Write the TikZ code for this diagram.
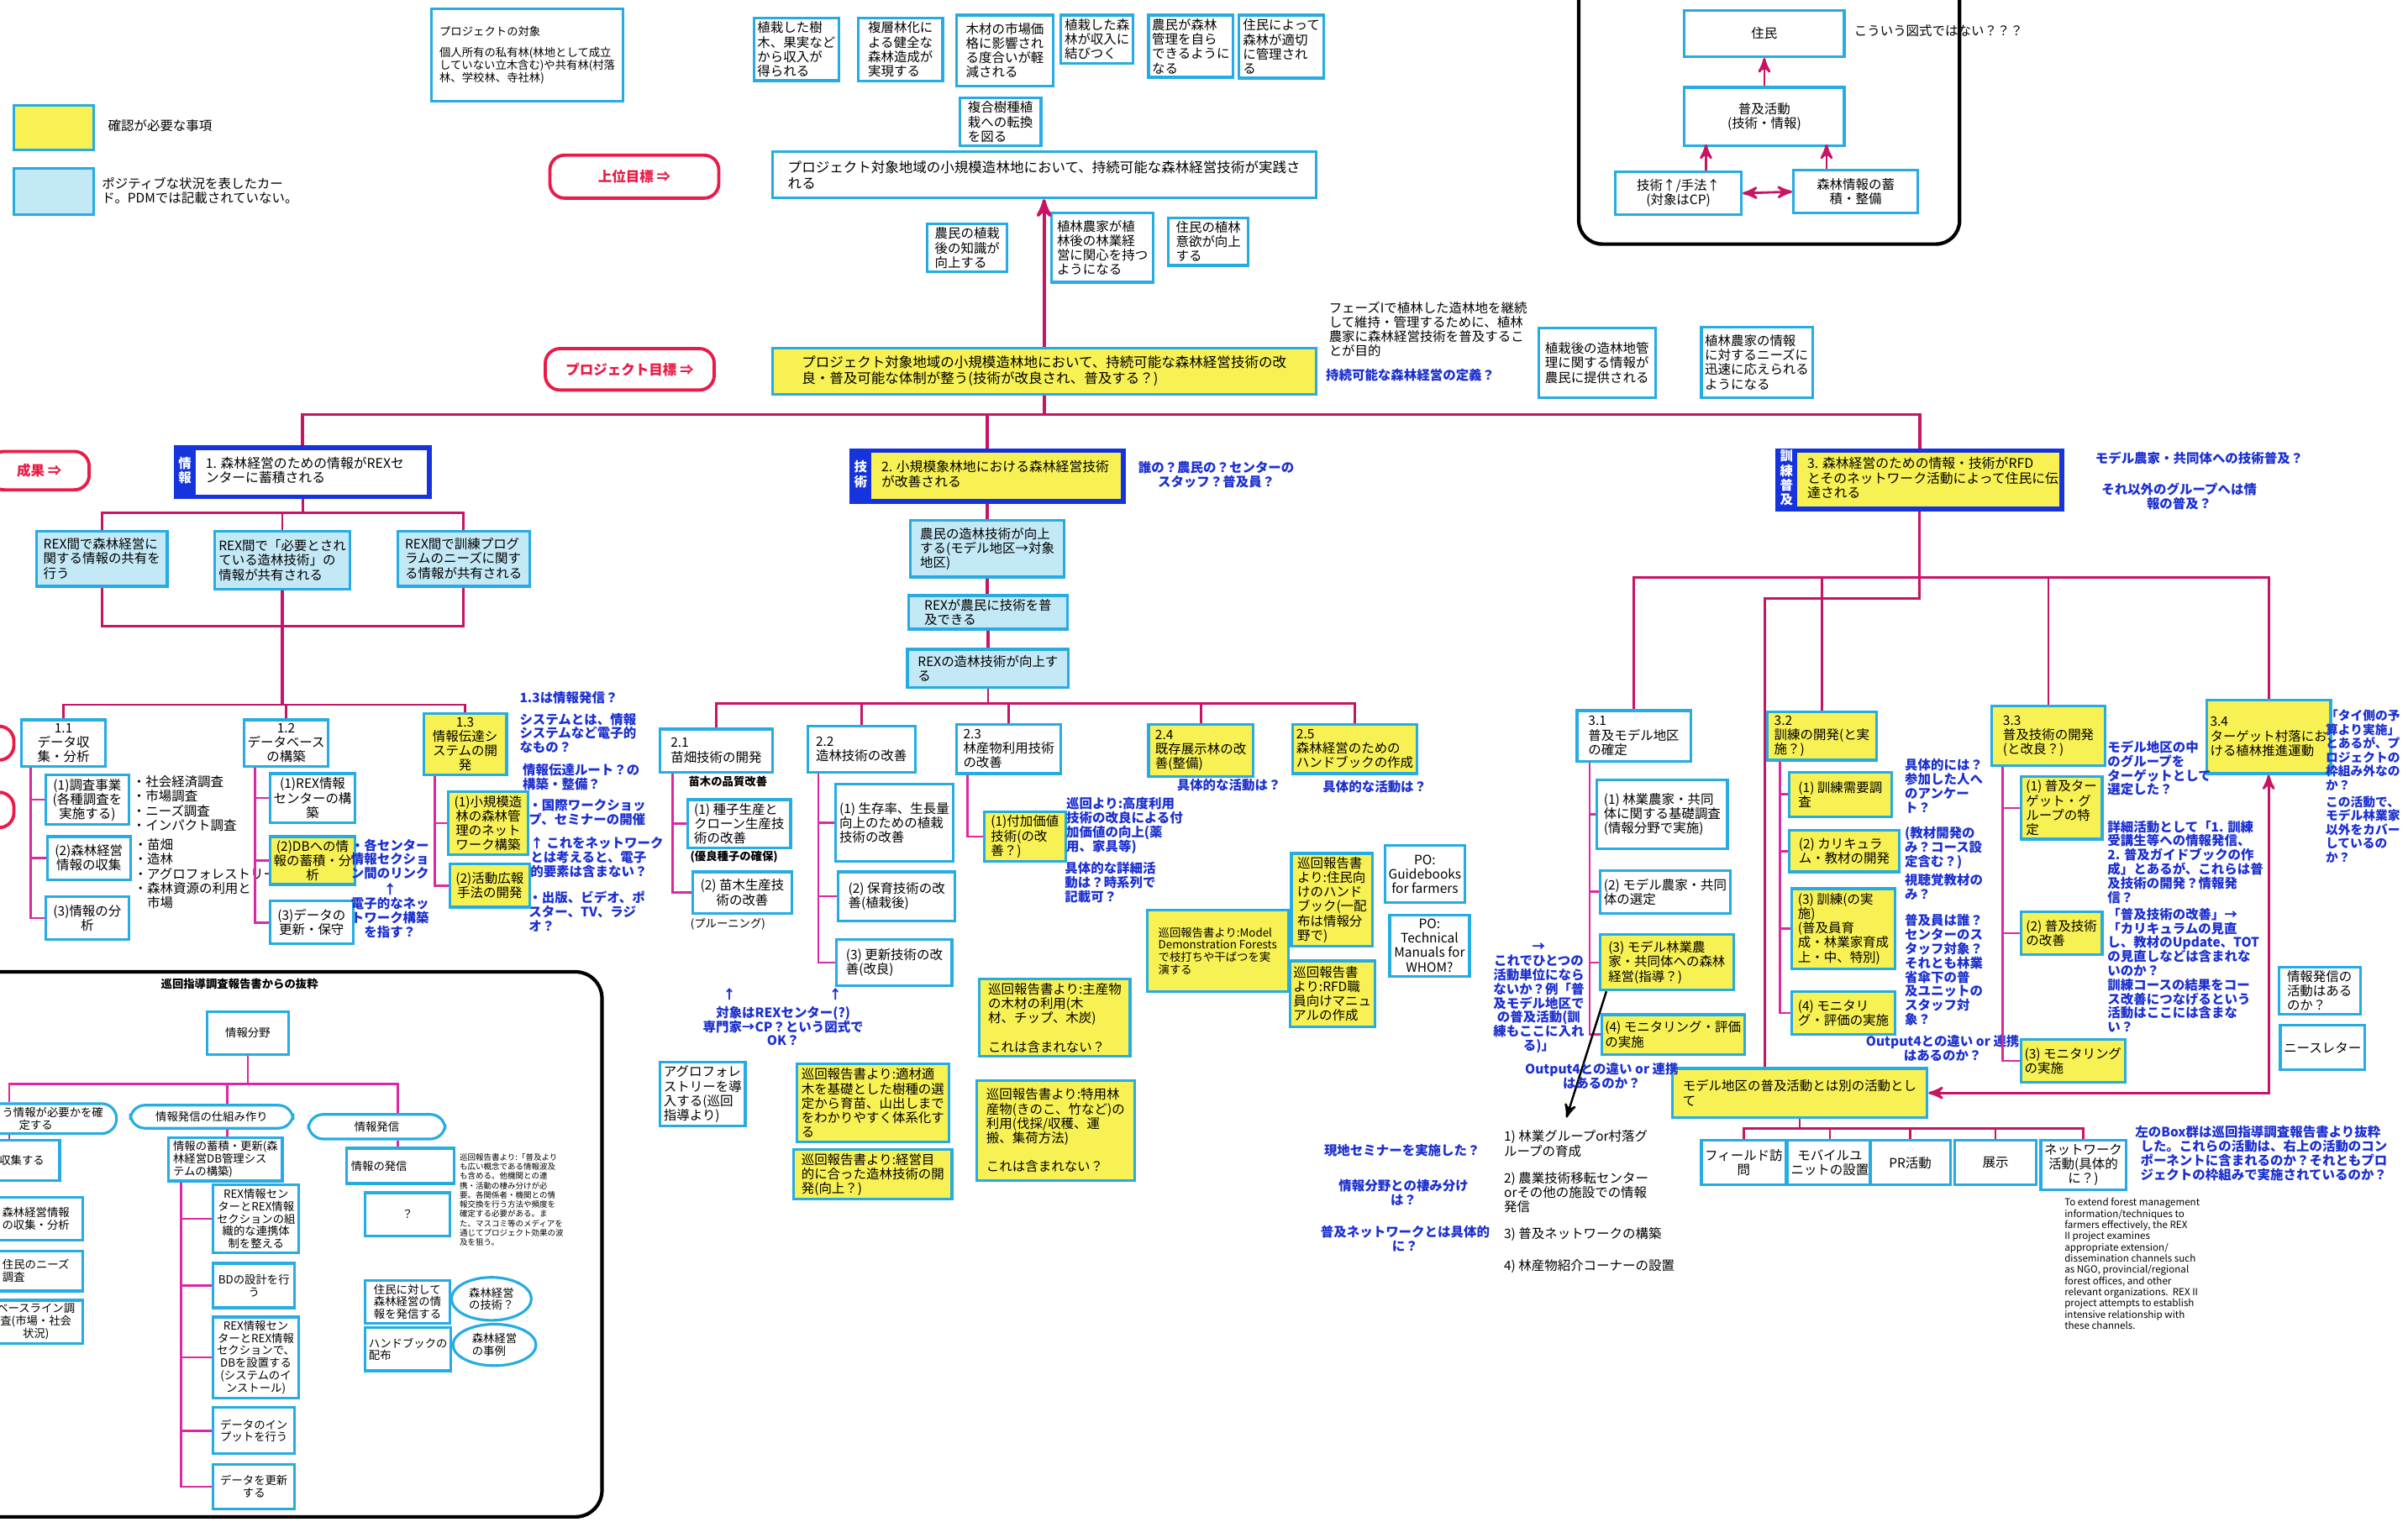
\documentclass[tikz,border=0pt]{standalone}
\usepackage{fontspec}
\setmainfont{Noto Sans CJK JP}
\usepackage{tikz}
\usetikzlibrary{arrows}
\usetikzlibrary{positioning,shapes.geometric,calc}
\definecolor{cyan1}{RGB}{38,172,226}
\definecolor{yellow1}{RGB}{247,241,84}
\definecolor{lblue1}{RGB}{196,233,246}
\definecolor{magenta1}{RGB}{200,20,100}
\definecolor{pink1}{RGB}{222,40,160}
\definecolor{blue1}{RGB}{28,48,208}
\definecolor{navy1}{RGB}{22,52,222}
\definecolor{red1}{RGB}{232,28,72}
\newdimen\pxu
\pxu=0.18278mm
\newcommand{\cardfont}{\fontsize{4.4}{4.9}\selectfont}
\newcommand{\notefont}{\fontsize{4.4}{4.8}\selectfont}
\newcommand{\goalfont}{\fontsize{4.7}{5.4}\selectfont}
\newcommand{\insetfont}{\fontsize{3.8}{4.2}\selectfont}
\newcommand{\minifont}{\fontsize{3.3}{3.8}\selectfont}
\newcommand{\microfont}{\fontsize{2.7}{3.2}\selectfont}
\tikzstyle{card} = [draw=cyan1, line width=0.9pt, fill=white, inner sep=1.2pt, align=left, font=\cardfont, anchor=north west]
\tikzstyle{ycard} = [card, fill=yellow1]
\tikzstyle{bcard} = [card, fill=lblue1]
\tikzstyle{rcard} = [card, rounded corners=5pt, align=center, font=\insetfont]
\tikzstyle{oval} = [ellipse, draw=cyan1, line width=0.9pt, fill=white, inner sep=0pt, align=left, font=\insetfont]
\tikzstyle{outbox} = [draw=navy1, line width=1.6pt, anchor=north west]
\tikzstyle{strip} = [fill=navy1, text=white, inner sep=0pt, font=\cardfont\bfseries, align=center, anchor=north west, minimum width=14*\pxu]
\tikzstyle{outtext} = [font=\fontsize{4.5}{5.0}\selectfont, align=left, anchor=west, inner sep=3pt]
\tikzstyle{goal} = [draw=red1, line width=1.1pt, rounded corners=5pt, text=red1, font=\goalfont\bfseries, anchor=north west]
\tikzstyle{note} = [text=blue1, font=\notefont\bfseries, align=left, anchor=north west, inner sep=0pt]
\tikzstyle{plain} = [font=\cardfont, align=left, anchor=north west, inner sep=0pt]
\tikzstyle{link} = [draw=magenta1, line width=0.8pt]
\tikzstyle{trunk} = [link, line width=1.1pt]
\tikzstyle{spine} = [draw=pink1, line width=0.7pt]
\tikzset{wh/.style 2 args={minimum width=#1*\pxu, minimum height=#2*\pxu}}

\begin{document}
\begin{tikzpicture}[x=0.18278mm, y=-0.18278mm, >=stealth']
\useasboundingbox (0,0) rectangle (1568,991);
\fill[white] (0,0) rectangle (1568,991);

% legend, header
\node[card, font=\insetfont, wh={125}{60}] (target) at (280,5) {プロジェクトの対象\\[3pt]個人所有の私有林(林地として成立\\していない立木含む)や共有林(村落\\林、学校林、寺社林)};
\node[ycard, wh={52}{29}] (legyellow) at (8,68) {};
\node[plain, anchor=west] (legyellowtext) at (70,82) {確認が必要な事項};
\node[bcard, wh={52}{30}] (legblue) at (8,109) {};
\node[plain, anchor=west] (legbluetext) at (66,124) {ポジティブな状況を表したカー\\ド。PDMでは記載されていない。};

\node[goal, wh={110}{28}] (upper) at (357,100) {上位目標\ ⇒};
\node[goal, wh={110}{27}] (purpose) at (354,226) {プロジェクト目標\ ⇒};
\node[goal, wh={65}{25}] (result) at (-8,293) {成果\ ⇒};
\node[goal, wh={70}{22}] (cut1) at (-62,472) {};
\node[goal, wh={70}{23}] (cut2) at (-62,515) {};

% upper goal and effects
\node[card, wh={55}{40}] (fruit) at (490,11) {植栽した樹\\木、果実など\\から収入が\\得られる};
\node[card, wh={55}{40}] (multi) at (558,11) {複層林化に\\よる健全な\\森林造成が\\実現する};
\node[card, wh={63}{46}] (market) at (622,9) {木材の市場価\\格に影響され\\る度合いが軽\\減される};
\node[card, wh={47}{30}] (income) at (690,9) {植栽した森\\林が収入に\\結びつく};
\node[card, wh={53}{40}] (selfmgmt) at (747,9) {農民が森林\\管理を自ら\\できるように\\なる};
\node[card, wh={55}{41}] (residmgmt) at (806,9) {住民によって\\森林が適切\\に管理され\\る};
\node[card, wh={53}{31}] (mixed) at (624,63) {複合樹種植\\栽への転換\\を図る};
\node[card, font=\goalfont, wh={354}{30}] (ugoal) at (502,98) {プロジェクト対象地域の小規模造林地において、持続可能な森林経営技術が実践さ\\れる};
\node[card, wh={52}{31}] (knowl) at (603,145) {農民の植栽\\後の知識が\\向上する};
\node[card, wh={66}{45}] (interest) at (684,138) {植林農家が植\\林後の林業経\\営に関心を持つ\\ようになる};
\node[card, wh={52}{30}] (motiv) at (760,141) {住民の植林\\意欲が向上\\する};
\node[ycard, font=\goalfont, wh={354}{30}] (pgoal) at (502,226) {プロジェクト対象地域の小規模造林地において、持続可能な森林経営技術の改\\良・普及可能な体制が整う(技術が改良され、普及する？)};
\node[plain] (phase) at (865,196) {フェーズIで植林した造林地を継続\\して維持・管理するために、植林\\農家に森林経営技術を普及するこ\\とが目的};
\node[note] (define) at (863,240) {持続可能な森林経営の定義？};
\node[card, wh={76}{45}] (infoprov) at (1001,213) {植栽後の造林地管\\理に関する情報が\\農民に提供される};
\node[card, wh={72}{46}] (needresp) at (1107,212) {植林農家の情報\\に対するニーズに\\迅速に応えられる\\ようになる};

% inset top right
\draw[line width=1.2pt, rounded corners=8pt] (1028,-20) rectangle (1276,159);
\node[card, align=center, wh={104}{30}] (resid) at (1096,6) {住民};
\node[card, align=center, wh={104}{38}] (ext) at (1096,56) {普及活動\\(技術・情報)};
\node[card, align=center, wh={82}{28}] (techup) at (1051,111) {技術↑/手法↑\\(対象はCP)};
\node[card, align=center, wh={81}{28}] (forstock) at (1167,110) {森林情報の蓄\\積・整備};
\node[plain, anchor=west] (askfig) at (1207,20) {こういう図式ではない？？？};
\draw[link,->] (ext.north) -- (resid.south);
\draw[link,->] ([xshift=18*\pxu]techup.north) -- +(0,-17);
\draw[link,->] ([xshift=-19*\pxu]forstock.north) -- +(0,-16);
\draw[link,<->] (techup.east) -- (forstock.west);

% outputs
\node[outbox, fill=white, wh={165}{32}] (o1) at (113,290) {};
\node[strip, minimum height=32*\pxu] (o1s) at (o1.north west) {情\\報};
\node[outtext] (o1t) at (o1s.east) {1. 森林経営のための情報がREXセ\\ンターに蓄積される};
\node[outbox, fill=yellow1, wh={177}{33}] (o2) at (553,292) {};
\node[strip, minimum height=33*\pxu] (o2s) at (o2.north west) {技\\術};
\node[outtext] (o2t) at (o2s.east) {2. 小規模象林地における森林経営技術\\が改善される};
\node[outbox, fill=yellow1, wh={185}{38}] (o3) at (1156,292) {};
\node[strip, minimum height=38*\pxu] (o3s) at (o3.north west) {訓\\練\\普\\及};
\node[outtext] (o3t) at (o3s.east) {3. 森林経営のための情報・技術がRFD\\とそのネットワーク活動によって住民に伝\\達される};
\node[note, align=center, anchor=north] (whose) at (792,300) {誰の？農民の？センターの\\スタッフ？普及員？};
\node[note] (model) at (1364,294) {モデル農家・共同体への技術普及？};
\node[note, align=center, anchor=north] (others) at (1419,314) {それ以外のグループへは情\\報の普及？};

\draw[trunk,->] (pgoal.north) -- (ugoal.south);
\foreach \o in {o1,o2,o3}
  \draw[trunk] (pgoal.south) -- (pgoal.south |- 0,270) -| (\o.north);

% output 1
\node[bcard, wh={85}{36}] (r1) at (23,345) {REX間で森林経営に\\関する情報の共有を\\行う};
\node[bcard, wh={88}{38}] (r2) at (139,345) {REX間で「必要とされ\\ている造林技術」の\\情報が共有される};
\node[bcard, wh={86}{36}] (r3) at (258,345) {REX間で訓練プログ\\ラムのニーズに関す\\る情報が共有される};
\foreach \r in {r1,r2,r3}
  \draw[link] (o1.south) -- (o1.south |- 0,334) -| (\r.north);
\draw[link] (r1.south) |- (r3.south |- 0,408) -- (r3.south);
\draw[trunk] (r2.south) -- (r2.south |- 0,459);

\node[card, align=center, wh={55}{28}] (p11) at (13,468) {1.1\\データ収\\集・分析};
\node[card, align=center, wh={54}{28}] (p12) at (158,468) {1.2\\データベース\\の構築};
\node[ycard, align=center, wh={54}{39}] (p13) at (275,464) {1.3\\情報伝達シ\\ステムの開\\発};
\foreach \p in {p11,p12,p13}
  \draw[link] (r2.south |- 0,459) -| (\p.north);

\node[card, align=center, wh={54}{30}] (a111) at (29,504) {(1)調査事業\\(各種調査を\\実施する)};
\node[card, align=center, wh={54}{28}] (a112) at (30,544) {(2)森林経営\\情報の収集};
\node[card, align=center, wh={54}{28}] (a113) at (29,583) {(3)情報の分\\析};
\node[plain] (list1) at (86,505) {・社会経済調査\\・市場調査\\・ニーズ調査\\・インパクト調査};
\node[plain] (list2) at (87,546) {・苗畑\\・造林\\・アグロフォレストリー\\・森林資源の利用と\\\hspace*{1em}市場};
\node[card, align=center, wh={54}{32}] (a121) at (175,503) {(1)REX情報\\センターの構\\築};
\node[ycard, align=center, wh={54}{30}] (a122) at (175,544) {(2)DBへの情\\報の蓄積・分\\析};
\node[card, align=center, wh={54}{28}] (a123) at (175,586) {(3)データの\\更新・保守};
\node[note, align=center, anchor=north] (link121) at (254,546) {・各センター\\情報セクショ\\ン間のリンク};
\node[note, align=center, anchor=north] (elec) at (254,575) {↑\\電子的なネッ\\トワーク構築\\を指す？};
\node[ycard, align=center, wh={52}{39}] (a131) at (291,515) {(1)小規模造\\林の森林管\\理のネット\\ワーク構築};
\node[ycard, align=center, wh={52}{28}] (a132) at (292,562) {(2)活動広報\\手法の開発};
\foreach \c in {a111,a112,a113}
  \draw[spine] (p11.south -| 20,0) |- (\c.west);
\foreach \c in {a121,a122,a123}
  \draw[spine] (p12.south -| 166,0) |- (\c.west);
\foreach \c in {a131,a132}
  \draw[spine] (p13.south -| 283,0) |- (\c.west);

\node[note] (n131) at (338,450) {1.3は情報発信？};
\node[note] (n132) at (338,464) {システムとは、情報\\システムなど電子的\\なもの？};
\node[note] (n133) at (340,497) {情報伝達ルート？の\\構築・整備？};
\node[note] (n134) at (344,520) {・国際ワークショッ\\プ、セミナーの開催};
\node[note] (n135) at (345,545) {↑ これをネットワーク\\とは考えると、電子\\的要素は含まない？};
\node[note] (n136) at (344,580) {・出版、ビデオ、ポ\\スター、TV、ラジ\\オ？};

% inset bottom left
\draw[line width=1.2pt, rounded corners=9pt] (-20,633) rectangle (392,988);
\node[plain, font=\insetfont\bfseries, anchor=north] (excerpttitle) at (156,637) {巡回指導調査報告書からの抜粋};
\node[card, font=\insetfont, align=center, wh={53}{28}] (field) at (134,658) {情報分野};
\node[rcard, wh={105}{16}] (need) at (-30,718) {\hphantom{どうい}う情報が必要かを確\\定する};
\node[rcard, wh={106}{15}] (mech) at (84,719) {情報発信の仕組み作り};
\node[rcard, wh={89}{16}] (send) at (200,725) {情報発信};
\foreach \b/\x in {need/6,mech/148,send/259}
  \draw[spine] (field.south) -- (field.south |- 0,706) -| (\b.north -| \x,0);

\node[card, font=\insetfont, text width=10.6mm, align=right, wh={78}{26}] (collect) at (-40,742) {収集する};
\node[card, font=\insetfont, wh={61}{28}] (mgmtinfo) at (-8,779) {森林経営情報\\の収集・分析};
\node[card, font=\insetfont, wh={61}{26}] (needsurvey) at (-8,814) {住民のニーズ\\調査};
\node[card, font=\insetfont, align=center, wh={61}{28}] (baseline) at (-8,846) {ベースライン調\\査(市場・社会\\状況)};
\draw[spine] (need.south -| 6,0) -- (collect.north -| 6,0);

\node[card, font=\insetfont, wh={74}{23}] (dbsys) at (109,740) {情報の蓄積・更新(森\\林経営DB管理シス\\テムの構築)};
\draw[spine] (mech.south -| 148,0) -- (dbsys.north -| 148,0);
\node[card, font=\insetfont, align=center, wh={53}{44}] (d1) at (138,771) {REX情報セン\\ターとREX情報\\セクションの組\\織的な連携体\\制を整える};
\node[card, font=\insetfont, align=center, wh={53}{29}] (d2) at (138,822) {BDの設計を行\\う};
\node[card, font=\insetfont, align=center, wh={53}{52}] (d3) at (138,857) {REX情報セン\\ターとREX情報\\セクションで、\\DBを設置する\\(システムのイ\\ンストール)};
\node[card, font=\insetfont, align=center, wh={53}{30}] (d4) at (138,916) {データのイン\\プットを行う};
\node[card, font=\insetfont, align=center, wh={53}{29}] (d5) at (138,953) {データを更新\\する};
\foreach \d in {d1,d2,d3,d4,d5}
  \draw[spine] (dbsys.south -| 118,0) |- (\d.west);

\node[card, font=\insetfont, text width=11.8mm, wh={70}{23}] (issue) at (225,747) {情報の発信};
\draw[spine] (send.south -| 259,0) -- (issue.north -| 259,0);
\node[card, font=\insetfont, align=center, wh={55}{28}] (unknown) at (237,776) {？};
\node[plain, font=\microfont] (excerpt) at (299,751) {巡回報告書より:「普及より\\も広い概念である情報波及\\も含める。他機関との連\\携・活動の棲み分けが必\\要。各関係者・機関との情\\報交換を行う方法や頻度を\\確定する必要がある。ま\\た、マスコミ等のメディアを\\通じてプロジェクト効果の波\\及を狙う。};
\node[card, font=\insetfont, wh={55}{28}] (toresid) at (237,833) {住民に対して\\森林経営の情\\報を発信する};
\node[card, font=\insetfont, wh={55}{28}] (handbk) at (237,864) {ハンドブックの\\配布};
\node[oval, wh={52}{28}] (techq) at (320,846) {森林経営\\の技術？};
\node[oval, wh={54}{27}] (cases) at (322,876) {森林経営\\の事例};

% output 2
\node[bcard, wh={100}{37}] (s1) at (592,338) {農民の造林技術が向上\\する(モデル地区→対象\\地区)};
\node[bcard, wh={103}{21}] (s2) at (591,387) {REXが農民に技術を普\\及できる};
\node[bcard, wh={105}{25}] (s3) at (590,422) {REXの造林技術が向上す\\る};
\draw[trunk] (o2.south) -- (o2.south |- s1.north);
\draw[trunk] (s1.south) -- (s1.south |- s2.north);
\draw[trunk] (s2.south) -- (s2.south |- s3.north);

\node[card, wh={73}{28}] (q21) at (429,474) {2.1\\苗畑技術の開発};
\node[card, wh={70}{30}] (q22) at (525,472) {2.2\\造林技術の改善};
\node[card, wh={68}{32}] (q23) at (622,471) {2.3\\林産物利用技術\\の改善};
\node[ycard, wh={68}{34}] (q24) at (747,471) {2.4\\既存展示林の改\\善(整備)};
\node[ycard, wh={75}{32}] (q25) at (841,471) {2.5\\森林経営のための\\ハンドブックの作成};
\foreach \q in {q21,q22,q23,q24,q25}
  \draw[link] (s3.south) -- (s3.south |- 0,458) -| (\q.north);

\node[plain, font=\insetfont\bfseries, anchor=north] (quality) at (474,505) {苗木の品質改善};
\node[card, wh={67}{31}] (a211) at (447,520) {(1) 種子生産と\\クローン生産技\\術の改善};
\node[plain, font=\insetfont\bfseries, anchor=north] (seedsec) at (478,554) {(優良種子の確保)};
\node[card, align=center, wh={65}{27}] (a212) at (450,567) {(2) 苗木生産技\\術の改善};
\node[plain, font=\insetfont, anchor=north] (pruning) at (474,598) {(プルーニング)};
\foreach \c in {a211,a212}
  \draw[spine] (q21.south -| 438,0) |- (\c.west);
\node[card, wh={77}{50}] (a221) at (543,510) {(1) 生存率、生長量\\向上のための植栽\\技術の改善};
\node[card, wh={76}{32}] (a222) at (545,567) {(2) 保育技術の改\\善(植栽後)};
\node[card, wh={75}{30}] (a223) at (544,611) {(3) 更新技術の改\\善(改良)};
\foreach \c in {a221,a222,a223}
  \draw[spine] (q22.south -| 533,0) |- (\c.west);
\node[ycard, wh={53}{31}] (a231) at (640,528) {(1)付加価値\\技術(の改\\善？)};
\draw[spine] (q23.south -| 630,0) |- (a231.west);
\node[note] (n231) at (694,519) {巡回より:高度利用\\技術の改良による付\\加価値の向上(薬\\用、家具等)};
\node[note] (n232) at (693,561) {具体的な詳細活\\動は？時系列で\\記載可？};
\node[note] (n24) at (766,507) {具体的な活動は？};
\node[note] (n25) at (861,508) {具体的な活動は？};

\node[ycard, font=\insetfont, wh={92}{53}] (rep1) at (746,592) {巡回報告書より:Model\\Demonstration Forests\\で枝打ちや干ばつを実\\演する};
\node[ycard, wh={53}{60}] (rep2) at (840,555) {巡回報告書\\より:住民向\\けのハンド\\ブック(一配\\布は情報分\\野で)};
\node[ycard, wh={52}{43}] (rep3) at (839,625) {巡回報告書\\より:RFD職\\員向けマニュ\\アルの作成};
\node[card, align=center, wh={51}{37}] (po1) at (901,550) {PO:\\Guidebooks\\for farmers};
\node[card, align=center, wh={52}{40}] (po2) at (904,595) {PO:\\Technical\\Manuals for\\WHOM?};
\node[ycard, wh={98}{50}] (rep4) at (637,637) {巡回報告書より:主産物\\の木材の利用(木\\材、チップ、木炭)\\[4.9pt]これは含まれない？};
\node[ycard, wh={103}{65}] (rep5) at (635,703) {巡回報告書より:特用林\\産物(きのこ、竹など)の\\利用(伐採/収穫、運\\搬、集荷方法)\\[4.9pt]これは含まれない？};
\node[ycard, wh={99}{51}] (rep6) at (518,692) {巡回報告書より:適材適\\木を基礎とした樹種の選\\定から育苗、山出しまで\\をわかりやすく体系化す\\る};
\node[ycard, wh={103}{32}] (rep7) at (516,748) {巡回報告書より:経営目\\的に合った造林技術の開\\発(向上？)};
\node[card, wh={53}{41}] (agro) at (429,691) {アグロフォレ\\ストリーを導\\入する(巡回\\指導より)};
\node[note, anchor=north] (up1) at (475,643) {↑};
\node[note, anchor=north] (up2) at (544,643) {↑};
\node[note, align=center, anchor=north] (target2) at (510,655) {対象はREXセンター(?)\\専門家→CP？という図式で\\OK？};

% output 3
\node[card, wh={74}{33}] (p31) at (1026,462) {3.1\\普及モデル地区\\の確定};
\node[ycard, wh={71}{29}] (p32) at (1150,463) {3.2\\訓練の開発(と実\\施？)};
\node[ycard, wh={74}{39}] (p33) at (1296,459) {3.3\\普及技術の開発\\(と改良？)};
\node[ycard, wh={74}{48}] (p34) at (1436,455) {3.4\\ターゲット村落にお\\ける植林推進運動};
\node[ycard, wh={166}{32}] (mbox) at (1088,695) {モデル地区の普及活動とは別の活動とし\\て};
\foreach \p in {p31,p32,p33,p34}
  \draw[link] (o3.south) -- (o3.south |- 0,376) -| (\p.north);
\draw[link] (o3.south) -- (o3.south |- 0,390) -| (mbox.north -| 1149,0);
\draw[link,<->] (p34.south) |- (mbox.east);

\node[card, wh={85}{45}] (a311) at (1039,507) {(1) 林業農家・共同\\体に関する基礎調査\\(情報分野で実施)};
\node[card, wh={85}{28}] (a312) at (1041,566) {(2) モデル農家・共同\\体の選定};
\node[ycard, wh={87}{36}] (a313) at (1041,608) {(3) モデル林業農\\家・共同体への森林\\経営(指導？)};
\node[ycard, wh={88}{26}] (a314) at (1042,660) {(4) モニタリング・評価\\の実施};
\foreach \c in {a311,a312,a313,a314}
  \draw[spine] (p31.south -| 1035,0) |- (\c.west);
\node[note, align=center, anchor=north] (n31) at (1002,614) {→\\これでひとつの\\活動単位になら\\ないか？例「普\\及モデル地区で\\の普及活動(訓\\練もここに入れ\\る)」};
\coordinate (listtip) at (1020,728);
\draw[->, line width=0.7pt] (a313.south -| 1046,0) -- (listtip);
\node[note, align=center, anchor=north] (n32) at (1043,692) {Output4との違い or 連携\\はあるのか？};

\node[plain] (k1) at (979,736) {1) 林業グループor村落グ\\ループの育成};
\node[plain] (k2) at (979,763) {2) 農業技術移転センター\\orその他の施設での情報\\発信};
\node[plain] (k3) at (979,799) {3) 普及ネットワークの構築};
\node[plain] (k4) at (979,820) {4) 林産物紹介コーナーの設置};
\node[note, align=center, anchor=north] (n33) at (913,745) {現地セミナーを実施した？};
\node[note, align=center, anchor=north] (n34) at (914,768) {情報分野との棲み分け\\は？};
\node[note, align=center, anchor=north] (n35) at (915,798) {普及ネットワークとは具体的\\に？};

\node[ycard, wh={67}{29}] (a321) at (1164,502) {(1) 訓練需要調\\査};
\node[ycard, wh={72}{27}] (a322) at (1164,540) {(2) カリキュラ\\ム・教材の開発};
\node[ycard, wh={67}{52}] (a323) at (1166,578) {(3) 訓練(の実\\施)\\(普及員育\\成・林業家育成\\上・中、特別)};
\node[ycard, wh={67}{28}] (a324) at (1166,645) {(4) モニタリ\\グ・評価の実施};
\foreach \c in {a321,a322,a323,a324}
  \draw[spine] (p32.south -| 1159,0) |- (\c.west);
\node[note] (n321) at (1240,494) {具体的には？\\参加した人へ\\のアンケー\\ト？};
\node[note] (n322) at (1240,538) {(教材開発の\\み？コース設\\定含む？)};
\node[note] (n323) at (1240,569) {視聴覚教材の\\み？};
\node[note] (n324) at (1240,595) {普及員は誰？\\センターのス\\タッフ対象？\\それとも林業\\省傘下の普\\及ユニットの\\スタッフ対\\象？};
\node[note, align=center, anchor=north] (n325) at (1265,674) {Output4との違い or 連携\\はあるのか？};

\node[ycard, wh={53}{40}] (a331) at (1315,505) {(1) 普及ター\\ゲット・グ\\ループの特\\定};
\node[ycard, wh={53}{28}] (a332) at (1315,593) {(2) 普及技術\\の改善};
\node[ycard, wh={68}{28}] (a333) at (1315,676) {(3) モニタリング\\の実施};
\foreach \c in {a331,a332,a333}
  \draw[spine] (p33.south -| 1304,0) |- (\c.west);
\node[note] (n331) at (1372,482) {モデル地区の中\\のグループを\\ターゲットとして\\選定した？};
\node[note] (n332) at (1372,534) {詳細活動として「1. 訓練\\受講生等への情報発信、\\2. 普及ガイドブックの作\\成」とあるが、これらは普\\及技術の開発？情報発\\信？};
\node[note] (n333) at (1372,591) {「普及技術の改善」→\\「カリキュラムの見直\\し、教材のUpdate、TOT\\の見直しなどは含まれな\\いのか？};
\node[note] (n334) at (1372,637) {訓練コースの結果をコー\\ス改善につなげるという\\活動はここには含まな\\い？};
\node[note, font=\fontsize{4.2}{4.7}\selectfont\bfseries] (n341) at (1514,462) {「タイ側の予\\算より実施」\\とあるが、プ\\ロジェクトの\\枠組み外なの\\か？};
\node[note, font=\fontsize{4.2}{4.7}\selectfont\bfseries] (n342) at (1514,518) {この活動で、\\モデル林業家\\以外をカバー\\しているの\\か？};
\node[card, wh={53}{30}] (w1) at (1483,629) {情報発信の\\活動はある\\のか？};
\node[card, wh={53}{29}] (w2) at (1484,667) {ニースレター};

\node[card, align=center, wh={51}{29}] (f1) at (1107,742) {フィールド訪\\問};
\node[card, align=center, wh={52}{29}] (f2) at (1163,742) {モバイルユ\\ニットの設置};
\node[card, align=center, wh={52}{29}] (f3) at (1217,742) {PR活動};
\node[card, align=center, wh={53}{29}] (f4) at (1272,742) {展示};
\node[card, align=center, wh={53}{29}] (f5) at (1328,742) {ネットワーク\\活動(具体的\\に？)};
\foreach \f in {f1,f2,f3,f4,f5}
  \draw[link] (mbox.south) -- (mbox.south |- 0,735) -| (\f.north);

\node[note] (boxq) at (1390,733) {左のBox群は巡回指導調査報告書より抜粋\\\hspace*{0.4em}した。これらの活動は、右上の活動のコン\\\hspace*{0.4em}ポーネントに含まれるのか？それともプロ\\\hspace*{0.4em}ジェクトの枠組みで実施されているのか？};
\node[plain, font=\minifont] (english) at (1344,780) {To extend forest management\\information/techniques to\\farmers effectively, the REX\\II project examines\\appropriate extension/\\dissemination channels such\\as NGO, provincial/regional\\forest offices, and other\\relevant organizations.\ \ REX II\\project attempts to establish\\intensive relationship with\\these channels.};
\end{tikzpicture}
\end{document}
